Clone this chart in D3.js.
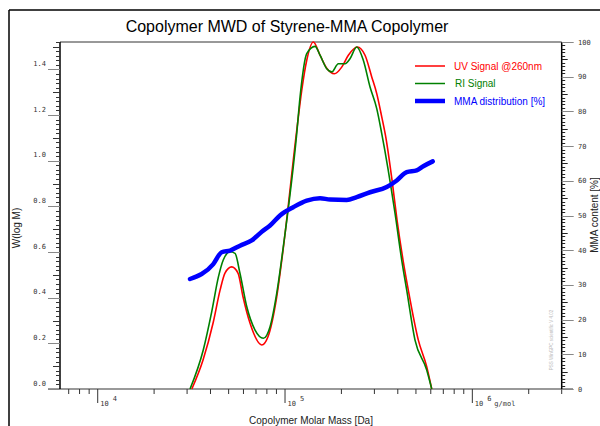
<!DOCTYPE html>
<meta charset="utf-8">
<script src="https://d3js.org/d3.v7.min.js"></script>
<style>
  body { margin: 0; background: #fff; }
  svg { display: block; font-family: "Liberation Sans", Arial, sans-serif; }
</style>
<div id="chart"></div>
<script>
// UV signal @260nm, molar mass vs W(log M)
const uvMass = [31800, 36500, 41300, 45000, 47800, 51900, 56100, 59700, 65000, 75100, 81100, 90300, 97600,
  115500, 122800, 130600, 141600, 153800, 167000, 183400, 200800, 217800, 243200, 267400, 290400, 308800,
  328400, 346200, 372600, 396300, 426600, 455200, 514900, 570800, 607000];
const uvW = [0, 0.127, 0.289, 0.433, 0.508, 0.535, 0.508, 0.403, 0.289, 0.193, 0.229, 0.404, 0.608,
  1.133, 1.308, 1.44, 1.52, 1.462, 1.405, 1.381, 1.41, 1.462, 1.498, 1.462, 1.367, 1.294,
  1.192, 1.097, 0.915, 0.74, 0.565, 0.433, 0.214, 0.098, 0];

// RI signal
const riMass = [31100, 36600, 40600, 44100, 46800, 50900, 54100, 57500, 62500, 69200, 76600, 83200, 90300, 97900,
  115500, 120300, 130600, 144600, 153800, 167000, 177600, 192600, 209200, 222300, 241400, 261800, 284400,
  308800, 328400, 386600, 419800, 446400, 494300, 570800, 607000];
const riW = [0, 0.171, 0.338, 0.491, 0.565, 0.601, 0.594, 0.506, 0.36, 0.258, 0.222, 0.273, 0.419, 0.623,
  1.12, 1.279, 1.469, 1.501, 1.462, 1.403, 1.389, 1.425, 1.425, 1.447, 1.498, 1.44, 1.323,
  1.228, 1.119, 0.77, 0.565, 0.433, 0.214, 0.083, 0];

// MMA distribution [%]
const mmaMass = [31100, 41400, 45900, 50900, 57500, 66400, 75400, 83200, 94000, 110700, 130600, 153800,
  174000, 213500, 241400, 284400, 349100, 394900, 446400, 504700, 547300, 614600];
const mmaPct = [31.7, 36.0, 39.4, 39.9, 41.3, 42.8, 45.4, 47.1, 50.0, 52.4, 54.3, 55.0,
  54.6, 54.5, 55.3, 56.7, 58.2, 60.1, 62.5, 63.0, 64.2, 65.6];

const decades = [1e4, 1e5, 1e6];
const decadeExp = ["4", "5", "6"];
const leftTicks = [0, 0.2, 0.4, 0.6, 0.8, 1.0, 1.2, 1.4];
const rightTicks = [0, 10, 20, 30, 40, 50, 60, 70, 80, 90, 100];
const legendNames = ["UV Signal @260nm", "RI Signal", "MMA distribution [%]"];
const legendColors = ["#ff0000", "#008000", "#0000ff"];

const W = 600, H = 426;
const plot = {left: 60, right: 561.7, top: 42, bottom: 389};

const svg = d3.select("#chart").append("svg")
  .attr("width", W).attr("height", H);

// outer frame
svg.append("line").attr("x1", 9).attr("x2", 9).attr("y1", 10).attr("y2", H)
  .attr("stroke", "#000").attr("stroke-width", 1.5);
svg.append("line").attr("x1", 9).attr("x2", W).attr("y1", 10).attr("y2", 10)
  .attr("stroke", "#000").attr("stroke-width", 1.5);

const x = d3.scaleLog().domain([6290, 3e6]).range([plot.left, plot.right]);
const y = d3.scaleLinear().domain([0, 1.52]).range([plot.bottom, plot.top]);
const y2 = d3.scaleLinear().domain([0, 100]).range([plot.bottom, plot.top]);

// title
svg.append("text").attr("x", 287).attr("y", 32).attr("text-anchor", "middle")
  .style("font-size", "16px").text("Copolymer MWD of Styrene-MMA Copolymer");

// top border of plot
svg.append("line").attr("x1", plot.left).attr("x2", plot.right)
  .attr("y1", plot.top).attr("y2", plot.top).attr("stroke", "#333");

// x axis
svg.append("line").attr("x1", 48).attr("x2", 573)
  .attr("y1", plot.bottom).attr("y2", plot.bottom).attr("stroke", "#777").attr("stroke-width", 1.5);

const minorX = [];
[1e3, 1e4, 1e5, 1e6].forEach(d => d3.range(2, 10).forEach(k => {
  const v = d * k;
  if (v >= x.domain()[0] && v <= x.domain()[1]) minorX.push(v);
}));
svg.append("g").selectAll("line").data(minorX).join("line")
  .attr("x1", d => x(d)).attr("x2", d => x(d))
  .attr("y1", plot.bottom).attr("y2", plot.bottom + 5)
  .attr("stroke", "#333");
svg.append("g").selectAll("line").data(decades).join("line")
  .attr("x1", d => x(d)).attr("x2", d => x(d))
  .attr("y1", plot.bottom).attr("y2", plot.bottom + 14)
  .attr("stroke", "#333");
const decLab = svg.append("g").style("font-family", "'DejaVu Sans Mono', monospace")
  .style("font-size", "7px").attr("fill", "#333");
decades.forEach((d, i) => {
  decLab.append("text").attr("x", x(d) + 2.5).attr("y", plot.bottom + 17).text("10");
  decLab.append("text").attr("x", x(d) + 15).attr("y", plot.bottom + 12).text(decadeExp[i]);
});
decLab.append("text").attr("x", x(1e6) + 22).attr("y", plot.bottom + 17).text("g/mol");

svg.append("text").attr("x", 311).attr("y", 424).attr("text-anchor", "middle")
  .style("font-size", "10px").attr("fill", "#222").text("Copolymer Molar Mass [Da]");

// left axis
svg.append("line").attr("x1", plot.left).attr("x2", plot.left)
  .attr("y1", plot.top).attr("y2", plot.bottom).attr("stroke", "#000").attr("stroke-width", 1.5);
const leftMinor = d3.range(0, 1.5201, 0.02);
svg.append("g").selectAll("line").data(leftMinor).join("line")
  .attr("x1", plot.left).attr("x2", (d, i) => plot.left - (i % 10 === 0 ? 12 : i % 5 === 0 ? 7 : 4))
  .attr("y1", d => Math.round(y(d)) + 0.5).attr("y2", d => Math.round(y(d)) + 0.5)
  .attr("stroke", (d, i) => i % 10 === 0 ? "#888" : "#333");
svg.append("g").selectAll("text").data(leftTicks).join("text")
  .attr("x", 46).attr("y", d => y(d) - 3.5).attr("text-anchor", "end")
  .style("font-family", "'DejaVu Sans Mono', monospace").style("font-size", "7px")
  .attr("fill", "#333").text(d3.format(".1f"));
svg.append("text").attr("transform", "translate(20,228) rotate(-90)")
  .attr("text-anchor", "middle").style("font-size", "10px").attr("fill", "#222").text("W(log M)");

// right axis
svg.append("line").attr("x1", plot.right).attr("x2", plot.right)
  .attr("y1", plot.top).attr("y2", plot.bottom).attr("stroke", "#000").attr("stroke-width", 1.5);
const rightMinor = d3.range(0, 101, 1);
svg.append("g").selectAll("line").data(rightMinor).join("line")
  .attr("x1", plot.right).attr("x2", d => plot.right + (d % 10 === 0 ? 12 : d % 5 === 0 ? 6 : 3.5))
  .attr("y1", d => Math.round(y2(d)) + 0.5).attr("y2", d => Math.round(y2(d)) + 0.5)
  .attr("stroke", d => d % 10 === 0 ? "#888" : "#222");
svg.append("g").selectAll("text").data(rightTicks).join("text")
  .attr("x", 578).attr("y", d => y2(d) + 2.5)
  .style("font-family", "'DejaVu Sans Mono', monospace").style("font-size", "7px")
  .attr("fill", "#333").text(d => d);
svg.append("text").attr("transform", "translate(598,215) rotate(-90)")
  .attr("text-anchor", "middle").style("font-size", "10px").attr("fill", "#222").text("MMA content [%]");

// watermark
svg.append("text").attr("transform", "translate(553,340) rotate(-90)")
  .attr("text-anchor", "middle").style("font-size", "4.5px").attr("fill", "#bbb")
  .text("PSS WinGPC scientific    V 4.02");

// curves
const line = d3.line().curve(d3.curveMonotoneX);
const uvPts = uvMass.map((m, i) => [x(m), y(uvW[i])]);
const riPts = riMass.map((m, i) => [x(m), y(riW[i])]);
const mmaPts = mmaMass.map((m, i) => [x(m), y2(mmaPct[i])]);

svg.append("path").attr("d", line(uvPts)).attr("fill", "none")
  .attr("stroke", legendColors[0]).attr("stroke-width", 1.6);
svg.append("path").attr("d", line(riPts)).attr("fill", "none")
  .attr("stroke", legendColors[1]).attr("stroke-width", 1.6);
svg.append("path").attr("d", line(mmaPts)).attr("fill", "none")
  .attr("stroke", legendColors[2]).attr("stroke-width", 4.5).attr("stroke-linecap", "round");

// legend
const lg = svg.append("g");
legendNames.forEach((name, i) => {
  const ly = 66 + i * 17.5;
  lg.append("line").attr("x1", 415).attr("x2", 445).attr("y1", ly).attr("y2", ly)
    .attr("stroke", legendColors[i]).attr("stroke-width", i === 2 ? 4.5 : 1.5);
  lg.append("text").attr("x", 454 + (i === 1 ? 1 : 0)).attr("y", ly + 3.5)
    .style("font-size", "10px").attr("fill", legendColors[i]).text(name);
});
</script>
